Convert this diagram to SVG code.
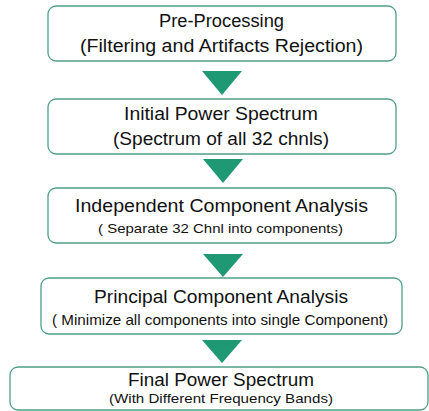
<svg xmlns="http://www.w3.org/2000/svg" width="429" height="411" viewBox="0 0 429 411">
<style>
.box{fill:#ffffff;stroke:#4f9f84;stroke-width:1.3}
.t{font-family:"Liberation Sans",Arial,sans-serif;fill:#111111}
.h{font-size:17.5px}
.s{font-size:13.5px}
.m{font-size:15px}
.arr{fill:#1f9874}
</style>
<rect width="429" height="411" fill="#ffffff"/>
<g id="connectors">
<polygon class="arr" points="202,71 242,71 222,95"/>
<polygon class="arr" points="203,159 243,159 223,183"/>
<polygon class="arr" points="203,254 243,254 223,277"/>
<polygon class="arr" points="202,340 242,340 222,363"/>
</g>
<g id="preprocessing">
<rect class="box" x="48" y="6" width="348" height="55" rx="8"/>
<text class="t h" x="159" y="27" textLength="125" lengthAdjust="spacingAndGlyphs">Pre-Processing</text>
<text class="t h" x="80" y="52" textLength="283" lengthAdjust="spacingAndGlyphs">(Filtering and Artifacts Rejection)</text>
</g>
<g id="initial-power-spectrum">
<rect class="box" x="48" y="99" width="348" height="55" rx="8"/>
<text class="t h" x="124" y="120" textLength="194" lengthAdjust="spacingAndGlyphs">Initial Power Spectrum</text>
<text class="t h" x="113" y="145" textLength="216" lengthAdjust="spacingAndGlyphs">(Spectrum of all 32 chnls)</text>
</g>
<g id="ica">
<rect class="box" x="48" y="188" width="348" height="55" rx="8"/>
<text class="t h" x="75" y="212" textLength="293" lengthAdjust="spacingAndGlyphs">Independent Component Analysis</text>
<text class="t s" x="98" y="233" textLength="245" lengthAdjust="spacingAndGlyphs">( Separate 32 Chnl into components)</text>
</g>
<g id="pca">
<rect class="box" x="41" y="278" width="361" height="56" rx="8"/>
<text class="t h" x="94" y="303" textLength="254" lengthAdjust="spacingAndGlyphs">Principal Component Analysis</text>
<text class="t m" x="52" y="325" textLength="336" lengthAdjust="spacingAndGlyphs">( Minimize all components into single Component)</text>
</g>
<g id="final-power-spectrum">
<rect class="box" x="10" y="367" width="418" height="43" rx="8"/>
<text class="t h" x="128" y="386" textLength="186" lengthAdjust="spacingAndGlyphs">Final Power Spectrum</text>
<text class="t s" x="109" y="403" textLength="224" lengthAdjust="spacingAndGlyphs">(With Different Frequency Bands)</text>
</g>
</svg>
